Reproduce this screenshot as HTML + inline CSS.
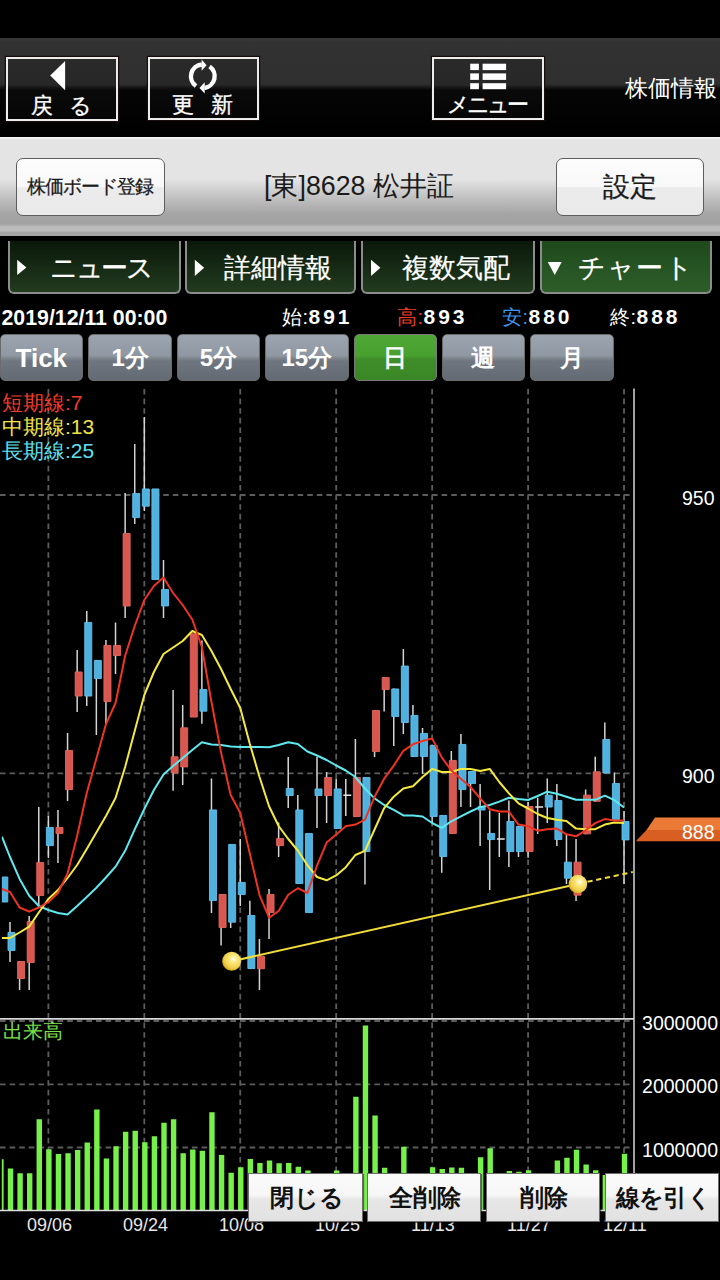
<!DOCTYPE html>
<html lang="ja">
<head>
<meta charset="utf-8">
<style>
*{margin:0;padding:0;box-sizing:border-box}
html,body{width:720px;height:1280px;overflow:hidden;background:#000}
body{position:relative;font-family:"Liberation Sans",sans-serif;color:#fff}
.a{position:absolute;white-space:nowrap}
#nav{left:0;top:38px;width:720px;height:99px;background:linear-gradient(#383838 0px,#323232 4px,#2f2f2f 46px,#1a1a1a 49px,#050505 52px,#000 99px)}
.nb{position:absolute;border:2px solid #ececec;box-shadow:0 0 0 1.2px #1a0c0c;background:linear-gradient(#2a2a2a 0px,#272727 26px,#161616 28.5px,#0a0a0a 31px,#060606 60px)}
.nt{position:absolute;font-size:22px;line-height:22px;color:#fff;-webkit-text-stroke:0.35px #fff}
#hdr{left:0;top:137px;width:720px;height:99px;background:linear-gradient(#f6f6f6 0px,#f0f0f0 1.5px,#e4e4e4 2px,#e4e4e4 42px,#c2c2c2 60px,#a5a5a5 77px,#a2a2a2 87px,#bcbcbc 90px,#bcbcbc 94px,#a8a8a8 95px,#a6a6a6 99px)}
.wb{position:absolute;border:1.8px solid #5e5e5e;border-radius:7px;background:linear-gradient(#fdfdfd 0%,#f8f8f8 50%,#ececec 51%,#e9e9e9 100%);color:#1a1a1a;text-align:center;-webkit-text-stroke:0.25px #1a1a1a}
.tab{position:absolute;top:240.5px;height:53.5px;border:2px solid #8c8c8c;border-top:none;border-radius:0 0 6px 6px;background:linear-gradient(#0a180a,#223b1f)}
.tab.on{background:linear-gradient(#1f4a1c,#2d5d29)}
.tt{position:absolute;font-size:27px;line-height:28px;color:#fff;-webkit-text-stroke:0.2px #fff}
.pb{position:absolute;top:334.2px;width:83.6px;height:47.2px;border:1.2px solid #6a6a6a;border-radius:5px;background:linear-gradient(#9ca4af 0%,#8f97a2 46%,#80878f 51%,#70767f 58%,#646a73 100%);color:#fff;font-weight:bold;font-size:24px;text-align:center;line-height:46px}
.pb.on{background:linear-gradient(#4ea634 0%,#48a02f 46%,#3f8e2a 53%,#3a8626 100%);border-color:#7a7a7a}
.ohlc{top:306px;font-size:21px;line-height:22px;font-weight:bold;letter-spacing:2.9px}
.ohlc .k{font-weight:normal;font-size:20px;letter-spacing:0.5px}
.ax{position:absolute;font-size:19.5px;line-height:19.5px;color:#fff;text-align:right}
.dt{position:absolute;font-size:18px;line-height:18px;color:#e8e8e8}
.bb{position:absolute;top:1172.5px;height:49.3px;padding-left:3px;border:1.8px solid #6c6c6c;background:linear-gradient(#fbfbfb 0%,#f6f6f6 45%,#e6e6e6 55%,#e2e2e2 100%);color:#111;font-weight:bold;font-size:24px;line-height:47px;text-align:center;box-shadow:1px 1px 1px rgba(0,0,0,.5)}
</style>
</head>
<body>
<div id="nav" class="a"></div>
<div class="nb" style="left:6px;top:56.5px;width:112px;height:64px"></div>
<div class="nb" style="left:148px;top:57px;width:111px;height:63px"></div>
<div class="nb" style="left:432px;top:57px;width:111.5px;height:63px"></div>
<svg class="a" style="left:0;top:0" width="720" height="140">
<polygon points="50.2,75.6 65.1,61 65.1,90.3" fill="#fff"/>
<path d="M196 85.96A11.85 11.85 0 0 1 201.8 64.47" stroke="#fff" stroke-width="4.4" fill="none"/>
<polygon points="201.6,59.6 206.6,65.2 201.6,70.8" fill="#fff"/>
<path d="M209.6 66.5A11.85 11.85 0 0 1 204.5 87.95" stroke="#fff" stroke-width="4.4" fill="none"/>
<polygon points="204.7,82.3 199.5,87.9 204.7,93.5" fill="#fff"/>
<rect x="470.2" y="63.7" width="8.7" height="6.4" fill="#fff"/>
<rect x="470.2" y="73.4" width="8.7" height="6.5" fill="#fff"/>
<rect x="470.2" y="83.2" width="8.7" height="6.0" fill="#fff"/>
<rect x="482.6" y="63.7" width="23.5" height="6.4" fill="#fff"/>
<rect x="482.6" y="73.4" width="23.5" height="6.5" fill="#fff"/>
<rect x="482.6" y="83.2" width="23.5" height="6.0" fill="#fff"/>
</svg>
<div class="nt" style="left:31px;top:94.5px">戻</div>
<div class="nt" style="left:69px;top:94.5px">る</div>
<div class="nt" style="left:172px;top:94px">更</div>
<div class="nt" style="left:211px;top:94px">新</div>
<div class="nt" style="left:447px;top:94px;font-size:22px;letter-spacing:-3px">メニュー</div>
<div class="nt" style="left:625px;top:77px;font-size:23px;-webkit-text-stroke:0">株価情報</div>

<div id="hdr" class="a"></div>
<div class="wb" style="left:15.8px;top:157.8px;width:149px;height:58.3px;font-size:18.5px;line-height:56px;letter-spacing:-1px">株価ボード登録</div>
<div class="a" style="left:264px;top:170px;font-size:26.8px;line-height:32px;color:#1a1a1a">[東]8628 松井証</div>
<div class="wb" style="left:555.5px;top:158px;width:148.8px;height:58.3px;font-size:26.5px;line-height:57px">設定</div>

<div class="tab" style="left:7.8px;width:173.4px"></div>
<div class="tab" style="left:185px;width:171.2px"></div>
<div class="tab" style="left:361.3px;width:173.7px"></div>
<div class="tab on" style="left:540px;width:172.3px"></div>
<svg class="a" style="left:0;top:240px" width="720" height="60">
<polygon points="17.2,19.7 26.4,27.4 17.2,35" fill="#fff"/>
<polygon points="194.8,19.7 204.2,27.8 194.8,35.9" fill="#fff"/>
<polygon points="371,19.7 380.4,27.8 371,35.9" fill="#fff"/>
<polygon points="547.8,22 561.7,22 554.75,35" fill="#fff"/>
</svg>
<div class="tt" style="left:50px;top:254px;letter-spacing:-2.4px">ニュース</div>
<div class="tt" style="left:224px;top:254px">詳細情報</div>
<div class="tt" style="left:402px;top:254px">複数気配</div>
<div class="tt" style="left:578px;top:254px;letter-spacing:1.2px">チャート</div>

<div class="a" style="left:1.5px;top:306.5px;font-size:21.3px;line-height:22px;font-weight:bold;letter-spacing:0px">2019/12/11 00:00</div>
<div class="a ohlc" style="left:282px"><span class="k">始:</span>891</div>
<div class="a ohlc" style="left:397px"><span class="k" style="color:#ee3a2a">高:</span>893</div>
<div class="a ohlc" style="left:502px"><span class="k" style="color:#3f93ea">安:</span>880</div>
<div class="a ohlc" style="left:610px"><span class="k">終:</span>888</div>

<div class="pb" style="left:-0.5px;font-size:26px">Tick</div>
<div class="pb" style="left:88.3px">1分</div>
<div class="pb" style="left:176.7px">5分</div>
<div class="pb" style="left:265px">15分</div>
<div class="pb on" style="left:353.7px">日</div>
<div class="pb" style="left:441.7px">週</div>
<div class="pb" style="left:530px">月</div>

<svg width="720" height="1280" viewBox="0 0 720 1280" style="position:absolute;left:0;top:0">
<defs><clipPath id="cp"><rect x="1.8" y="388" width="632" height="830"/></clipPath><radialGradient id="gold" cx="0.6" cy="0.38" r="0.68"><stop offset="0" stop-color="#fffff4"/><stop offset="0.3" stop-color="#fbe77c"/><stop offset="0.7" stop-color="#f0d04a"/><stop offset="1" stop-color="#c89a18"/></radialGradient></defs>
<path d="M48.38 389V1210 M144.32 389V1210 M240.26 389V1210 M336.2 389V1210 M432.14 389V1210 M528.08 389V1210 M624.02 389V1210 M0 495H632 M0 773.4H632 M0 1021H632 M0 1084.4H632 M0 1147.5H632" stroke="#5c5c5c" stroke-width="1.8" stroke-dasharray="5.6 4" fill="none"/>
<path d="M634 388.4V1211" stroke="#b4b4b4" stroke-width="1.8" fill="none"/>
<path d="M0 1018.9H634" stroke="#d8d8d8" stroke-width="1.6" fill="none"/>
<g clip-path="url(#cp)">
<path d="M10 922V962 M19.59 961V990 M29.19 916V990 M38.78 807V907 M48.38 816V858 M57.97 810V863 M67.56 733V801 M77.16 650V712 M86.75 611V706 M96.35 660V735 M105.94 640V724 M115.53 622.5V674 M125.13 493V618 M134.72 444V524 M144.32 417V511 M163.5 560V618 M173.1 690V790.8 M182.69 705V785 M201.88 640.5V723.7 M211.47 778.4V913 M221.07 894V945.6 M230.66 844V928 M240.26 839V906 M249.85 900.7V969 M259.44 939V990 M269.04 889V939 M278.63 822.6V857 M288.23 757V808 M297.82 795V884 M317.01 757V828 M326.6 772V823 M336.2 778.7V829 M345.79 779V816 M355.38 739V817 M364.98 777V884.6 M374.57 710V757 M384.17 677V711.5 M393.76 688.5V746 M403.35 649V734 M412.95 705V757 M422.54 728V774 M432.14 745V823 M441.73 815V872.8 M451.32 751V834 M460.92 734V807 M470.51 771V807 M480.11 784V846 M489.7 810.5V890 M499.29 813V857 M508.89 800.6V867 M518.48 826V857 M528.08 802V857.7 M537.67 797.8V834 M547.26 778.5V823 M556.86 784V846 M566.45 835V884 M576.05 839V901 M585.64 789.6V834.3 M595.23 756.7V801.8 M604.83 722.6V773.4 M614.42 772.4V820 M624.02 811V884" stroke="#d4d4d4" stroke-width="1.5" fill="none"/>
<path d="M17.59 961.45h7v17.1h-7Z M27.19 921.45h7v41.1h-7Z M36.78 862.45h7v33.1h-7Z M55.97 827.45h7v6.1h-7Z M65.56 750.45h7v39.1h-7Z M75.16 671.95h7v24.1h-7Z M103.94 645.45h7v56.1h-7Z M113.53 645.45h7v10.1h-7Z M123.13 533.45h7v72.6h-7Z M171.1 756.75h7v16.1h-7Z M180.69 727.85h7v39.1h-7Z M190.29 633.75h7v83.3h-7Z M219.07 894.45h7v33.1h-7Z M257.44 956.25h7v12.5h-7Z M267.04 894.45h7v18.1h-7Z M276.63 838.45h7v7.1h-7Z M324.6 777.45h7v18.1h-7Z M353.38 777.45h7v39.1h-7Z M372.57 710.45h7v41.1h-7Z M382.17 677.45h7v12.1h-7Z M449.32 760.45h7v73.1h-7Z M526.08 806.45h7v45.1h-7Z M574.05 862.15h7v33h-7Z M583.64 795.15h7v38.7h-7Z M593.23 771.85h7v29.5h-7Z" fill="#d8574f" stroke="#e46860" stroke-width="0.9"/>
<path d="M1.9 877h5.9V902h-5.9Z M8 932.45h7v18.1h-7Z M46.38 827.45h7v18.1h-7Z M84.75 622.45h7v73.6h-7Z M94.35 660.45h7v18.1h-7Z M132.72 493.45h7v24.1h-7Z M142.32 488.95h7v17.2h-7Z M151.91 488.95h7v90.6h-7Z M161.5 589.45h7v16.5h-7Z M199.88 689.45h7v21.7h-7Z M209.47 809.95h7v90.6h-7Z M228.66 844.45h7v77.7h-7Z M238.26 882.45h7v12.1h-7Z M247.85 915.45h7v53.1h-7Z M286.23 788.45h7v7.1h-7Z M295.82 809.95h7v73.6h-7Z M305.41 833.45h7v79.1h-7Z M315.01 788.95h7v6.6h-7Z M334.2 788.95h7v39.6h-7Z M362.98 777.45h7v74.1h-7Z M391.76 688.95h7v27.6h-7Z M401.35 666.05h7v56.5h-7Z M410.95 715.45h7v41.1h-7Z M420.54 733.45h7v23.1h-7Z M430.14 745.45h7v71.1h-7Z M439.73 815.45h7v41.1h-7Z M458.92 744.45h7v45.1h-7Z M468.51 771.45h7v12.1h-7Z M478.11 806.45h7v3.6h-7Z M487.7 833.45h7v6.1h-7Z M506.89 821.45h7v30.1h-7Z M516.48 826.45h7v25.1h-7Z M545.26 795.15h7v11.9h-7Z M554.86 800.45h7v39.1h-7Z M564.45 862.15h7v16h-7Z M602.83 739.45h7v33.5h-7Z M612.42 783.45h7v36.1h-7Z M622.02 821.45h7v18.5h-7Z" fill="#50b0de" stroke="#62c2ee" stroke-width="0.9"/>
<path d="M343.34 794.5h7.9v1.5h-7.9Z M496.84 838.3h7.9v1.5h-7.9Z M535.22 806.3h7.9v1.5h-7.9Z" fill="#e8e8e8"/>
<polyline points="1.9,836.7 10,857 19.59,878.9 29.19,895.8 38.78,906 48.38,910 57.97,913 67.56,914.4 77.16,906 86.75,897 96.35,887.7 105.94,877.5 115.53,866.7 125.13,850.8 134.72,829.4 144.32,809 153.91,790 163.5,774.5 173.1,766 182.69,758 192.29,750 201.88,742.3 211.47,744.5 221.07,744.9 230.66,746.4 240.26,747 249.85,747 259.44,747 269.04,747.2 278.63,745 288.23,742.3 297.82,744 307.41,751.5 317.01,755.5 326.6,760 336.2,765.5 345.79,770.5 355.38,777 364.98,788.5 374.57,798.4 384.17,805 393.76,809.8 403.35,815.4 412.95,815.4 422.54,816.5 432.14,823 441.73,827.9 451.32,821.3 460.92,816.4 470.51,811.5 480.11,807.2 489.7,805 499.29,801.6 508.89,797.7 518.48,799 528.08,800 537.67,796 547.26,791.7 556.86,793.7 566.45,796.7 576.05,799.8 585.64,799.8 595.23,799.8 604.83,795.7 614.42,800.2 624.02,807.5" stroke="#5ee8f0" stroke-width="2" fill="none" stroke-linejoin="round"/>
<polyline points="1.9,938 10,938 19.59,932.5 29.19,926.6 38.78,912.5 48.38,899 57.97,890 67.56,878 77.16,865 86.75,849 96.35,832.5 105.94,816 115.53,798 125.13,767 134.72,731 144.32,695 153.91,672 163.5,654 173.1,647.5 182.69,641 192.29,631 201.88,635 211.47,651 221.07,669 230.66,689 240.26,708 249.85,744 259.44,776.7 269.04,806.2 278.63,826 288.23,839 297.82,850.5 307.41,865.2 317.01,877 326.6,880.3 336.2,875.4 345.79,867.2 355.38,855 364.98,850.8 374.57,829.5 384.17,808.2 393.76,796.7 403.35,788.5 412.95,786.2 422.54,777 432.14,768.9 441.73,772 451.32,772 460.92,768.9 470.51,768.9 480.11,771 489.7,768.9 499.29,782 508.89,793.4 518.48,803.3 528.08,808.5 537.67,814 547.26,818 556.86,819.7 566.45,821 576.05,828.6 585.64,829.2 595.23,829.2 604.83,824.6 614.42,822.5 624.02,823.1" stroke="#f5ea3c" stroke-width="2" fill="none" stroke-linejoin="round"/>
<polyline points="1.9,889 10,892 19.59,907.5 29.19,911.7 38.78,907.5 48.38,902 57.97,893 67.56,873.4 77.16,835.7 86.75,793 96.35,758.7 105.94,724.3 115.53,703 125.13,655.7 134.72,626 144.32,600 153.91,586 163.5,577.5 173.1,593 182.69,605 192.29,619.5 201.88,647 211.47,702 221.07,752.6 230.66,795 240.26,813 249.85,853.8 259.44,894.8 269.04,917.7 278.63,911 288.23,894.8 297.82,888.2 307.41,893 317.01,865.6 326.6,842.6 336.2,834.4 345.79,826.2 355.38,824.6 364.98,819.7 374.57,796.7 384.17,778.7 393.76,765.6 403.35,750.8 412.95,744.3 422.54,741 432.14,738.4 441.73,757.4 451.32,770.5 460.92,778.7 470.51,787 480.11,798.4 489.7,809.2 499.29,811.5 508.89,811.5 518.48,824.6 528.08,826.2 537.67,830.7 547.26,829.2 556.86,828.6 566.45,834.3 576.05,836.3 585.64,830.3 595.23,823.1 604.83,819.1 614.42,820.5 624.02,820.5" stroke="#ee3322" stroke-width="2" fill="none" stroke-linejoin="round"/>
<path d="M-1.79 1159.3h5.4V1210h-5.4Z M7.8 1168.4h5.4V1210h-5.4Z M17.39 1173.3h5.4V1210h-5.4Z M26.99 1173.3h5.4V1210h-5.4Z M36.58 1119.3h5.4V1210h-5.4Z M46.18 1149.3h5.4V1210h-5.4Z M55.77 1154h5.4V1210h-5.4Z M65.36 1153.3h5.4V1210h-5.4Z M74.96 1150h5.4V1210h-5.4Z M84.55 1142.4h5.4V1210h-5.4Z M94.15 1109.6h5.4V1210h-5.4Z M103.74 1158.4h5.4V1210h-5.4Z M113.33 1146.2h5.4V1210h-5.4Z M122.93 1131.8h5.4V1210h-5.4Z M132.52 1130.7h5.4V1210h-5.4Z M142.12 1142.2h5.4V1210h-5.4Z M151.71 1136.2h5.4V1210h-5.4Z M161.3 1122.7h5.4V1210h-5.4Z M170.9 1119.3h5.4V1210h-5.4Z M180.49 1153.3h5.4V1210h-5.4Z M190.09 1149.6h5.4V1210h-5.4Z M199.68 1150.7h5.4V1210h-5.4Z M209.27 1112.2h5.4V1210h-5.4Z M218.87 1155.1h5.4V1210h-5.4Z M228.46 1172.7h5.4V1210h-5.4Z M238.06 1167.3h5.4V1210h-5.4Z M247.65 1158.9h5.4V1210h-5.4Z M257.24 1162.9h5.4V1210h-5.4Z M266.84 1160.4h5.4V1210h-5.4Z M276.43 1163.3h5.4V1210h-5.4Z M286.03 1162.9h5.4V1210h-5.4Z M295.62 1166.7h5.4V1210h-5.4Z M305.21 1170.4h5.4V1210h-5.4Z M334 1170.4h5.4V1210h-5.4Z M353.18 1096.7h5.4V1210h-5.4Z M362.78 1025.6h5.4V1210h-5.4Z M372.37 1115.6h5.4V1210h-5.4Z M381.97 1167.8h5.4V1210h-5.4Z M401.15 1146.7h5.4V1210h-5.4Z M429.94 1167.3h5.4V1210h-5.4Z M439.53 1169.1h5.4V1210h-5.4Z M449.12 1167.5h5.4V1210h-5.4Z M458.72 1167.8h5.4V1210h-5.4Z M477.91 1157.2h5.4V1210h-5.4Z M487.5 1148.3h5.4V1210h-5.4Z M506.69 1171h5.4V1210h-5.4Z M516.28 1171.7h5.4V1210h-5.4Z M525.88 1170.2h5.4V1210h-5.4Z M554.66 1160.4h5.4V1210h-5.4Z M564.25 1157.8h5.4V1210h-5.4Z M573.85 1149.8h5.4V1210h-5.4Z M583.44 1164.4h5.4V1210h-5.4Z M593.03 1170.2h5.4V1210h-5.4Z M602.63 1175h5.4V1210h-5.4Z M621.82 1153.8h5.4V1210h-5.4Z" fill="#78f04a"/>
</g>
<path d="M231.7 961.3L577.8 883.9" stroke="#f2dc3a" stroke-width="2" fill="none"/>
<path d="M587.5 881.8L632.8 872" stroke="#f2dc3a" stroke-width="2" stroke-dasharray="5.2 3.7" fill="none"/>
<circle cx="231.7" cy="961.3" r="9.5" fill="url(#gold)"/>
<circle cx="577.9" cy="884" r="9.3" fill="url(#gold)"/>
<path d="M0 1210.5H634" stroke="#e0e0e0" stroke-width="1.4" fill="none"/>
<path d="M655 817.5H720V830H646.5Z" fill="#ea7a36"/><path d="M646.5 830H720V841.3H635.8Z" fill="#d85e22"/>
</svg>

<div class="a" style="left:2px;top:391.5px;font-size:21px;line-height:22px;color:#f03c2c">短期線:7</div>
<div class="a" style="left:2px;top:415.5px;font-size:21px;line-height:22px;color:#f2e448">中期線:13</div>
<div class="a" style="left:2px;top:439.5px;font-size:21px;line-height:22px;color:#62e2f0">長期線:25</div>
<div class="a" style="left:3px;top:1020px;font-size:20px;line-height:22px;color:#78e048">出来高</div>

<div class="ax" style="right:5.5px;top:488.5px">950</div>
<div class="ax" style="right:5.5px;top:766.5px">900</div>
<div class="ax" style="right:5.5px;top:822.5px;color:#fff">888</div>
<div class="ax" style="right:2px;top:1013.5px">3000000</div>
<div class="ax" style="right:2px;top:1077px">2000000</div>
<div class="ax" style="right:2px;top:1140.5px">1000000</div>

<div class="dt" style="left:27px;top:1216px">09/06</div>
<div class="dt" style="left:123px;top:1216px">09/24</div>
<div class="dt" style="left:219px;top:1216px">10/08</div>
<div class="dt" style="left:315px;top:1216px">10/25</div>
<div class="dt" style="left:411px;top:1216px">11/13</div>
<div class="dt" style="left:507px;top:1216px">11/27</div>
<div class="dt" style="left:603px;top:1216px">12/11</div>

<div class="bb" style="left:247.8px;width:115.2px">閉じる</div>
<div class="bb" style="left:366.8px;width:114px">全削除</div>
<div class="bb" style="left:485.6px;width:114.6px">削除</div>
<div class="bb" style="left:604.7px;width:114.5px;letter-spacing:-0.8px">線を引く</div>
</body>
</html>
